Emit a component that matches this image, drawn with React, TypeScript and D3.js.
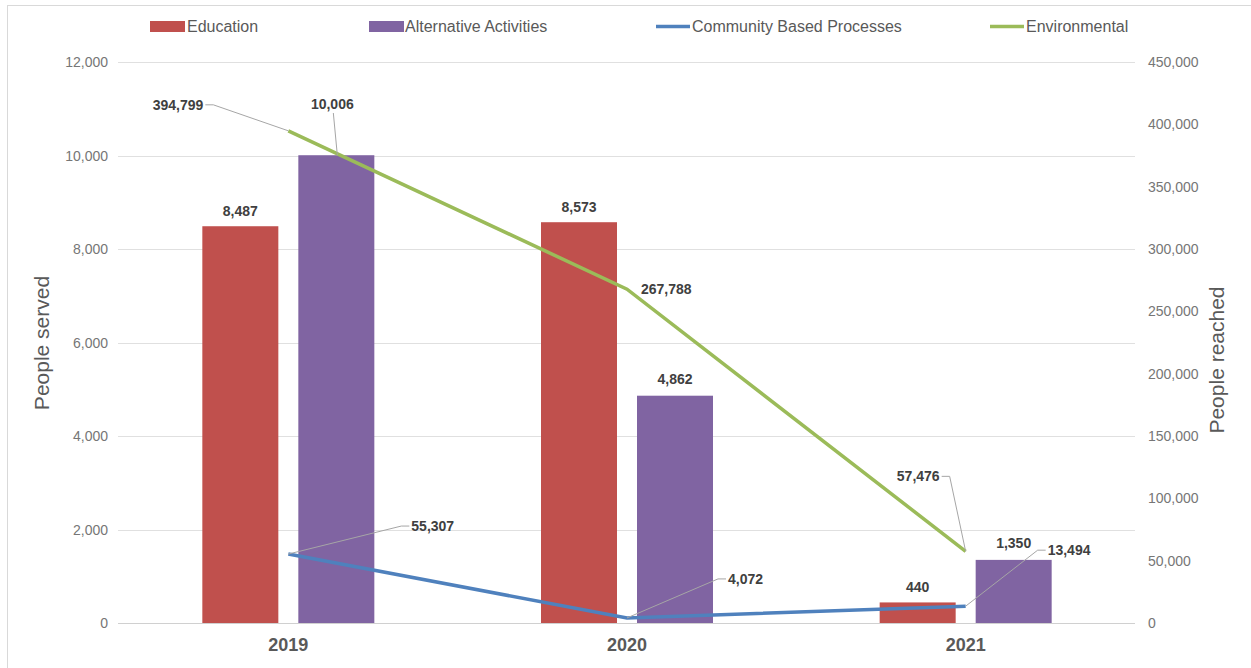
import React from "react";
import * as d3 from "d3";

const years = ["2019", "2020", "2021"];
const education = [8487, 8573, 440];
const alternative = [10006, 4862, 1350];
const community = [55307, 4072, 13494];
const environmental = [394799, 267788, 57476];
const leftTicks = [0, 2000, 4000, 6000, 8000, 10000, 12000];
const rightTicks = [0, 50000, 100000, 150000, 200000, 250000, 300000, 350000, 400000, 450000];

const W = 1251, H = 668;
const x0 = 119, x1 = 1135, yTop = 62, yBot = 623;

const fmt = d3.format(",");
const narrow = "'Liberation Sans Narrow', 'Arial Narrow', 'Liberation Sans', Arial, sans-serif";
const sans = "'Liberation Sans', Arial, sans-serif";

export default function App() {
  const xBand = d3.scaleBand<string>().domain(years).range([x0, x1]);
  const cx = (i: number) => (xBand(years[i]) as number) + xBand.bandwidth() / 2;
  const yL = d3.scaleLinear().domain([0, 12000]).range([yBot, yTop]);
  const yR = d3.scaleLinear().domain([0, 450000]).range([yBot, yTop]);
  const barW = 76, off = 48;
  const line = d3.line<number>().x((_, i) => cx(i)).y((d) => yR(d));

  const envLabels = [
    { dx: -85, dy: -26, anchor: "end", leader: true },
    { dx: 14, dy: 0, anchor: "start", leader: false },
    { dx: -26, dy: -75, anchor: "end", leader: true },
  ];
  const comLabels = [
    { dx: 123, dy: -28, anchor: "start" },
    { dx: 101, dy: -39, anchor: "start" },
    { dx: 82, dy: -56, anchor: "start" },
  ];

  return (
    <svg width={W} height={H} style={{ position: "absolute", left: 0, top: 0, background: "#fff" }}>
      <rect x={7.5} y={5.5} width={1300} height={700} fill="none" stroke="#d9d9d9" />
      {leftTicks.map((t) => (
        <line key={t} x1={118} x2={x1} y1={Math.round(yL(t)) + 0.5} y2={Math.round(yL(t)) + 0.5}
          stroke={t === 0 ? "#d0d0d0" : "#e0e0e0"} strokeWidth={1} />
      ))}
      {leftTicks.map((t) => (
        <text key={"l" + t} x={108} y={yL(t) + 5} textAnchor="end" fontFamily={sans} fontSize={14} fill="#767676">{fmt(t)}</text>
      ))}
      {rightTicks.map((t) => (
        <text key={"r" + t} x={1148} y={yR(t) + 5} textAnchor="start" fontFamily={sans} fontSize={14} fill="#767676">{fmt(t)}</text>
      ))}
      <text transform={`translate(49,343) rotate(-90)`} textAnchor="middle" fontFamily={sans} fontSize={21} fill="#595959">People served</text>
      <text transform={`translate(1224,360) rotate(-90)`} textAnchor="middle" fontFamily={sans} fontSize={21} fill="#595959">People reached</text>

      {years.map((y, i) => (
        <g key={y}>
          <rect x={cx(i) - off - barW / 2} y={yL(education[i])} width={barW} height={yBot - yL(education[i])} fill="#C0504D" />
          <rect x={cx(i) + off - barW / 2} y={yL(alternative[i])} width={barW} height={yBot - yL(alternative[i])} fill="#8064A2" />
          <text x={cx(i)} y={651} textAnchor="middle" fontFamily={narrow} fontWeight="bold" fontSize={18} fill="#595959">{y}</text>
        </g>
      ))}

      <path d={line(community) as string} fill="none" stroke="#4F81BD" strokeWidth={3.5} />
      <path d={line(environmental) as string} fill="none" stroke="#9BBB59" strokeWidth={3.5} />

      {years.map((y, i) => (
        <g key={"bl" + y} fontFamily={narrow} fontWeight="bold" fontSize={14} fill="#404040">
          <text x={cx(i) - off} y={yL(education[i]) - 10} textAnchor="middle">{fmt(education[i])}</text>
          {i === 0 ? (
            <g>
              <line x1={cx(i) + off - 3} y1={113} x2={cx(i) + off + 1} y2={yL(alternative[i])} stroke="#a6a6a6" />
              <text x={cx(i) + off - 4} y={109} textAnchor="middle">{fmt(alternative[i])}</text>
            </g>
          ) : (
            <text x={cx(i) + off} y={yL(alternative[i]) - 12} textAnchor="middle">{fmt(alternative[i])}</text>
          )}
        </g>
      ))}

      {environmental.map((v, i) => {
        const px = cx(i), py = yR(v);
        const L = envLabels[i];
        const tx = px + L.dx, ty = py + L.dy;
        return (
          <g key={"e" + i}>
            {L.leader && (
              <polyline points={`${tx + 2},${ty} ${tx + 10},${ty} ${px},${py}`} fill="none" stroke="#a6a6a6" />
            )}
            <text x={tx} y={ty + 5} textAnchor={L.anchor as any} fontFamily={narrow} fontWeight="bold" fontSize={14} fill="#404040">{fmt(v)}</text>
          </g>
        );
      })}

      {community.map((v, i) => {
        const px = cx(i), py = yR(v);
        const L = comLabels[i];
        const tx = px + L.dx, ty = py + L.dy;
        return (
          <g key={"c" + i}>
            <polyline points={`${tx - 2},${ty} ${tx - 10},${ty} ${px},${py}`} fill="none" stroke="#a6a6a6" />
            <text x={tx} y={ty + 5} textAnchor="start" fontFamily={narrow} fontWeight="bold" fontSize={14} fill="#404040">{fmt(v)}</text>
          </g>
        );
      })}

      <g fontFamily={narrow} fontSize={16} fill="#595959">
        <rect x={150} y={21} width={35} height={11} fill="#C0504D" />
        <text x={187} y={32}>Education</text>
        <rect x={369} y={21} width={35} height={11} fill="#8064A2" />
        <text x={405} y={32}>Alternative Activities</text>
        <line x1={656} x2={690} y1={26.5} y2={26.5} stroke="#4F81BD" strokeWidth={3.5} />
        <text x={692} y={32}>Community Based Processes</text>
        <line x1={990} x2={1024} y1={26.5} y2={26.5} stroke="#9BBB59" strokeWidth={3.5} />
        <text x={1026} y={32}>Environmental</text>
      </g>
    </svg>
  );
}
